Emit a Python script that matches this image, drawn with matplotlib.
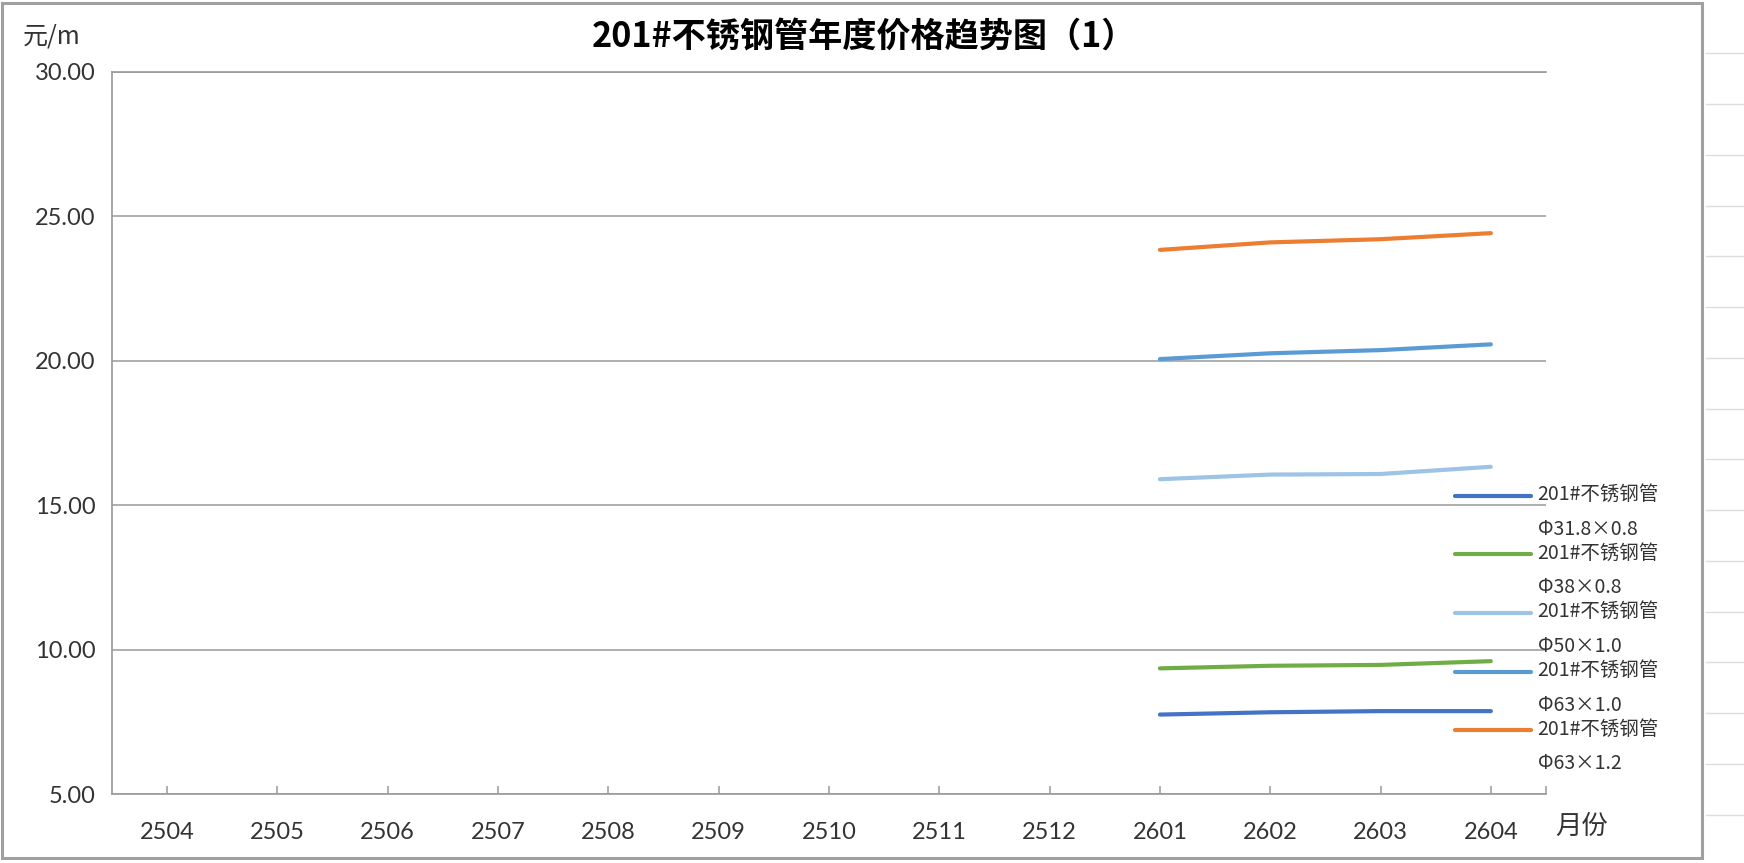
import numpy as np
import matplotlib
matplotlib.use("Agg")
from matplotlib import pyplot as plt
from matplotlib.lines import Line2D
from matplotlib.patches import Rectangle
from matplotlib.legend_handler import HandlerLine2D

nan = np.nan

# month codes (yymm)
months = ['2504', '2505', '2506', '2507', '2508', '2509', '2510',
          '2511', '2512', '2601', '2602', '2603', '2604']

# prices, yuan per metre (no data before 2601)
p_31_8x0_8 = [nan, nan, nan, nan, nan, nan, nan, nan, nan, 7.75, 7.83, 7.87, 7.87]
p_38x0_8 = [nan, nan, nan, nan, nan, nan, nan, nan, nan, 9.35, 9.44, 9.47, 9.60]
p_50x1_0 = [nan, nan, nan, nan, nan, nan, nan, nan, nan, 15.90, 16.06, 16.08, 16.33]
p_63x1_0 = [nan, nan, nan, nan, nan, nan, nan, nan, nan, 20.06, 20.26, 20.37, 20.57]
p_63x1_2 = [nan, nan, nan, nan, nan, nan, nan, nan, nan, 23.84, 24.10, 24.21, 24.42]

labels = ['201#不锈钢管\nΦ31.8×0.8', '201#不锈钢管\nΦ38×0.8', '201#不锈钢管\nΦ50×1.0',
          '201#不锈钢管\nΦ63×1.0', '201#不锈钢管\nΦ63×1.2']
series = [p_31_8x0_8, p_38x0_8, p_50x1_0, p_63x1_0, p_63x1_2]
colors = ['#4472C4', '#70AD47', '#9DC3E6', '#5B9BD5', '#ED7D31']

cjk = ['Noto Sans CJK SC', 'DejaVu Sans']
txt = '#333333'
grey = '#9a9a9a'


# put the legend line next to the first line of its two-line label
class FirstLineHandler(HandlerLine2D):
    def create_artists(self, legend, orig_handle, xdescent, ydescent,
                       width, height, fontsize, trans):
        return super().create_artists(legend, orig_handle, xdescent, ydescent - 25,
                                      width, height, fontsize, trans)


fig = plt.figure(figsize=(17.44, 8.63), dpi=100)
ax = fig.add_axes([112 / 1744, 69 / 863, 1434 / 1744, 722 / 863])

x = np.arange(len(months))
handles = []
for vals, lab, c in zip(series, labels, colors):
    h, = ax.plot(x, vals, color=c, lw=3, label=lab, solid_capstyle='round')
    handles.append(h)

ax.set_xlim(-0.5, len(months) - 0.5)
ax.set_ylim(5, 30)
ax.set_yticks(np.arange(5, 31, 5))
ax.set_yticklabels(['%.2f' % v for v in np.arange(5, 31, 5)])
ax.set_xticks(x)
ax.set_xticklabels(months)
ax.set_xticks([len(months) - 0.5], minor=True)

ax.grid(axis='y', color=grey, lw=1.1)
ax.set_axisbelow(True)
ax.spines['right'].set_visible(False)
for s in ['left', 'bottom', 'top']:
    ax.spines[s].set_color(grey)
    ax.spines[s].set_linewidth(1.2)

ax.tick_params(axis='y', length=0, pad=12, labelsize=17, labelcolor=txt)
ax.tick_params(axis='x', which='both', direction='in', length=6, width=1.1,
               color=grey, pad=20, labelsize=17, labelcolor=txt)
for t in ax.get_xticklabels() + ax.get_yticklabels():
    t.set_family('Lato')

fig.text(864 / 1744, 1 - 37 / 863, '201#不锈钢管年度价格趋势图（1）', ha='center', va='center',
         fontsize=24.6, fontweight='bold', family=cjk, color='black')
fig.text(23 / 1744, 1 - 36 / 863, '元/m', ha='left', va='center', fontsize=18,
         family=cjk, color=txt)
fig.text(1555 / 1744, 1 - 826 / 863, '月份', ha='left', va='center', fontsize=19,
         family=cjk, color=txt)

leg = fig.legend(handles=handles, loc='upper left',
                 bbox_to_anchor=(1455 / 1744, 1 - 484 / 863),
                 frameon=False, borderpad=0, borderaxespad=0,
                 handlelength=3.9, handletextpad=0.35, labelspacing=0.15,
                 prop={'family': cjk, 'size': 14},
                 handler_map={Line2D: FirstLineHandler()})
for t in leg.get_texts():
    t.set_linespacing(1.86)
    t.set_color(txt)

# chart frame and the worksheet grid that shows around it
fig.add_artist(Rectangle((2 / 1744, 1 - 858 / 863), 1700 / 1744, 855 / 863,
                         fill=False, ec='#a0a0a0', lw=2.2, transform=fig.transFigure))
for yy in np.arange(53.3, 863, 50.75):
    fig.add_artist(Line2D([1706 / 1744, 1], [1 - yy / 863, 1 - yy / 863],
                          color='#dddddd', lw=1, transform=fig.transFigure))

fig.savefig('out.png', dpi=100)
